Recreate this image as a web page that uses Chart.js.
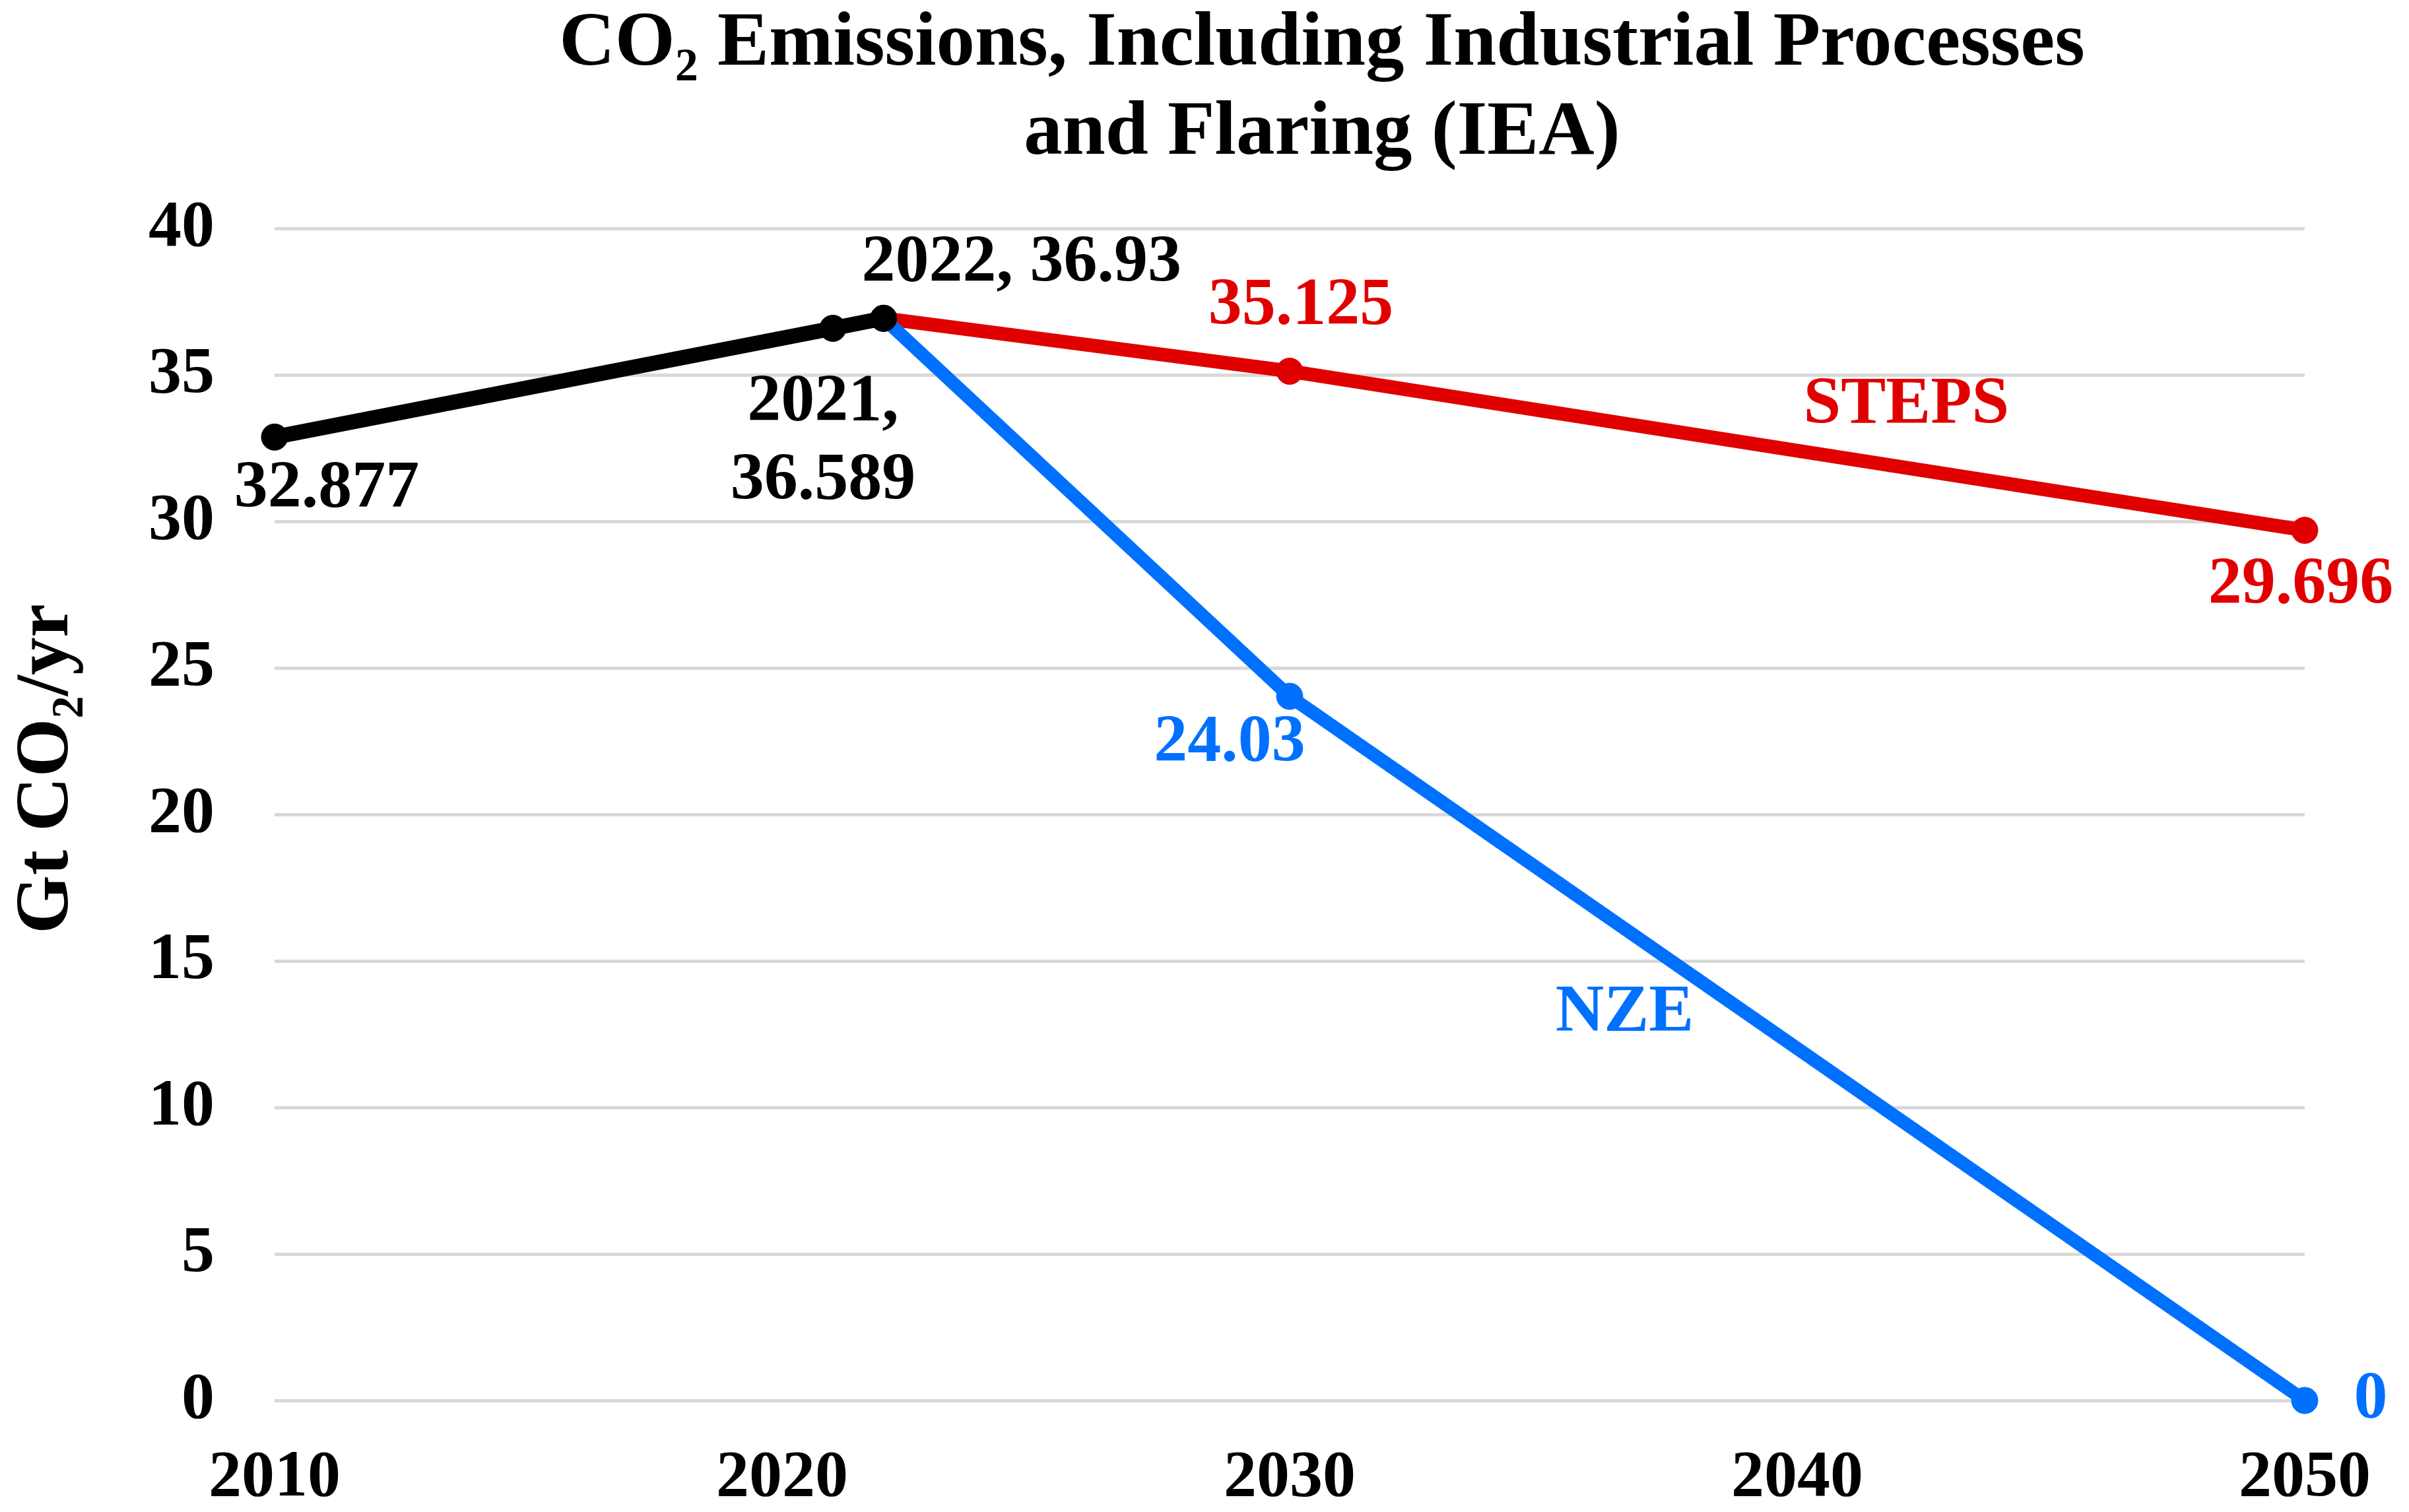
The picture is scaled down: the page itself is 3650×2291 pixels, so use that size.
<!DOCTYPE html>
<html>
<head>
<meta charset="utf-8">
<title>CO2 Emissions (IEA)</title>
<script src="https://cdn.jsdelivr.net/npm/chart.js@4.4.1/dist/chart.umd.min.js"></script>
<style>
  html, body { margin: 0; padding: 0; background: #fff; }
  #chart { display: block; }
</style>
</head>
<body>
<canvas id="chart" width="3650" height="2291"></canvas>
<script>
// data
const historyYears = [2010, 2021, 2022];
const historyValues = [32.877, 36.589, 36.93];
const historyLabels = [['32.877'], ['2021,', '36.589'], ['2022, 36.93']];

const scenarioYears = [2022, 2030, 2050];
const stepsValues = [36.93, 35.125, 29.696];
const stepsLabels = [null, ['35.125'], ['29.696']];
const nzeValues = [36.93, 24.03, 0];
const nzeLabels = [null, ['24.03'], ['0']];

const xTicks = [2010, 2020, 2030, 2040, 2050];
const yTicks = [0, 5, 10, 15, 20, 25, 30, 35, 40];

const titleLines = ['CO\u2082 Emissions, Including Industrial Processes', 'and Flaring (IEA)'];
const yTitle = 'Gt CO\u2082/yr';

const BLACK = '#000000';
const RED = '#e00000';
const BLUE = '#0070ff';
const FONT = "'Liberation Serif', 'Times New Roman', serif";

const toPoints = (xs, ys) => xs.map((x, i) => ({ x: x, y: ys[i] }));

// titles, point labels and series names
const textPlugin = {
  id: 'texts',
  afterDraw(chart) {
    const ctx = chart.ctx;
    const xs = chart.scales.x;
    const ys = chart.scales.y;
    ctx.save();
    ctx.fillStyle = BLACK;
    ctx.textAlign = 'center';
    ctx.textBaseline = 'alphabetic';
    ctx.font = `bold 117px ${FONT}`;
    ctx.fillText(titleLines[0], 2003, 98);
    ctx.fillText(titleLines[1], 2003, 233);

    ctx.font = `bold 114px ${FONT}`;
    ctx.save();
    ctx.translate(102, 1165);
    ctx.rotate(-Math.PI / 2);
    ctx.fillText(yTitle, 0, 0);
    ctx.restore();

    ctx.font = `bold 102px ${FONT}`;
    ctx.textBaseline = 'middle';
    chart.data.datasets.forEach((ds, di) => {
      const meta = chart.getDatasetMeta(di);
      ds.pointLabels.forEach((lines, i) => {
        if (!lines) return;
        const pt = meta.data[i];
        const off = ds.labelOffsets[i];
        ctx.fillStyle = ds.borderColor;
        lines.forEach((line, li) => {
          ctx.fillText(line, pt.x + off[0], pt.y + off[1] + li * 119);
        });
      });
    });

    ctx.fillStyle = RED;
    ctx.fillText('STEPS', xs.getPixelForValue(2042.15), ys.getPixelForValue(33.96));
    ctx.fillStyle = BLUE;
    ctx.fillText('NZE', xs.getPixelForValue(2036.6), ys.getPixelForValue(13.2));
    ctx.restore();
  }
};

const lineStyle = (color, width) => ({
  borderColor: color,
  backgroundColor: color,
  pointBackgroundColor: color,
  pointBorderColor: color,
  borderWidth: width,
  pointRadius: 20,
  pointBorderWidth: 1,
  pointHoverRadius: 20,
  tension: 0,
  clip: false,
  fill: false
});

new Chart(document.getElementById('chart'), {
  type: 'line',
  data: {
    datasets: [
      Object.assign({
        label: 'History',
        data: toPoints(historyYears, historyValues),
        pointLabels: historyLabels,
        labelOffsets: [[79, 79], [-15, 113], [209, -83]],
        order: 0
      }, lineStyle(BLACK, 23)),
      Object.assign({
        label: 'NZE',
        data: toPoints(scenarioYears, nzeValues),
        pointLabels: nzeLabels,
        labelOffsets: [null, [-91, 72], [100, 0]],
        order: 1
      }, lineStyle(BLUE, 20)),
      Object.assign({
        label: 'STEPS',
        data: toPoints(scenarioYears, stepsValues),
        pointLabels: stepsLabels,
        labelOffsets: [null, [17, -98], [-6, 84]],
        order: 2
      }, lineStyle(RED, 21))
    ]
  },
  options: {
    responsive: false,
    animation: false,
    events: [],
    layout: { padding: { top: 346, right: 146, bottom: 0, left: 0 } },
    plugins: {
      legend: { display: false },
      tooltip: { enabled: false },
      title: { display: false }
    },
    scales: {
      x: {
        type: 'linear',
        min: xTicks[0],
        max: xTicks[xTicks.length - 1],
        afterBuildTicks: (scale) => { scale.ticks = xTicks.map(v => ({ value: v })); },
        afterFit: (scale) => { scale.height = 169; },
        grid: { display: false, drawTicks: false },
        border: { display: false },
        ticks: {
          padding: 58,
          color: BLACK,
          font: { family: FONT, size: 100, weight: 'bold' },
          callback: (v) => String(v)
        }
      },
      y: {
        min: yTicks[0],
        max: yTicks[yTicks.length - 1],
        afterBuildTicks: (scale) => { scale.ticks = yTicks.map(v => ({ value: v })); },
        afterFit: (scale) => { scale.width = 416; },
        grid: { color: '#d9d9d9', lineWidth: 5, drawTicks: false },
        border: { display: false },
        ticks: {
          padding: 91,
          color: BLACK,
          font: { family: FONT, size: 100, weight: 'bold' },
          callback: (v) => String(v)
        }
      }
    }
  },
  plugins: [textPlugin]
});
</script>
</body>
</html>
